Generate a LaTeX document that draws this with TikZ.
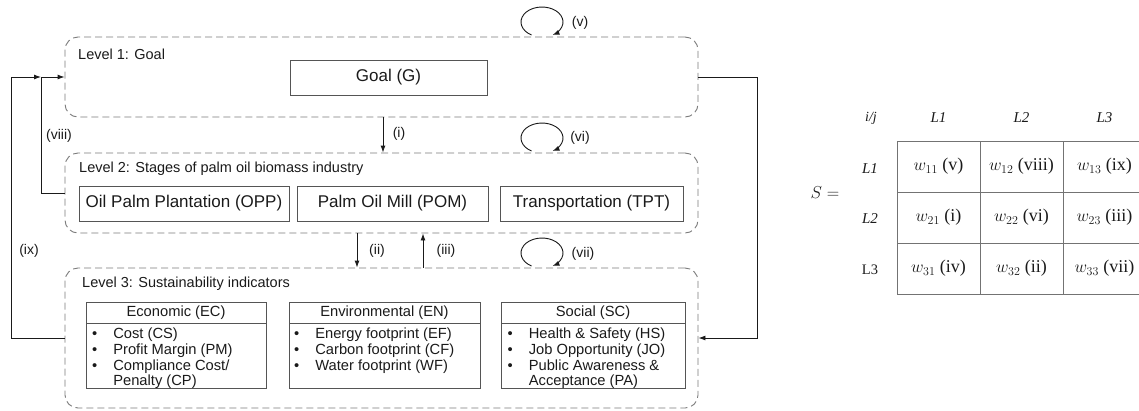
\documentclass[tikz,border=0pt]{standalone}
\usepackage{fontspec}
\setmainfont{Liberation Sans}
\newfontfamily\tabfont{Liberation Serif}
\usetikzlibrary{arrows.meta,calc}
\definecolor{boxline}{HTML}{555555}
\definecolor{dashline}{HTML}{7A7A7A}
\definecolor{ink}{HTML}{1A1A1A}
\begin{document}
\begin{tikzpicture}[x=1pt,y=-1pt,
  level/.style={draw=dashline, dash pattern=on 7pt off 4pt, rounded corners=13pt,
    line width=0.9pt, minimum width=633pt, inner sep=0pt},
  box/.style={draw=boxline, line width=0.9pt, inner sep=0pt, text=ink},
  arr/.style={draw=ink, line width=0.9pt, -{Latex[length=7pt,width=5pt]}},
  lvltext/.style={font=\fontsize{14.5}{16}\selectfont, text=ink, inner sep=0pt, anchor=west},
  lbl/.style={font=\fontsize{14}{16}\selectfont, text=ink, inner sep=0pt},
  big/.style={font=\fontsize{17}{19}\selectfont},
  head/.style={box, font=\fontsize{14.7}{16}\selectfont, minimum height=21pt},
  body/.style={box, minimum height=65pt},
  items/.style={inner sep=0pt, anchor=base west, text=ink},
  cell/.style={draw=gray!90!black, line width=0.8pt, minimum width=83pt, minimum height=51pt,
    inner sep=0pt, text=ink, font=\tabfont\fontsize{18}{20}\selectfont},
  thead/.style={inner sep=0pt, text=ink, font=\tabfont\itshape\fontsize{15}{17}\selectfont},
]
\useasboundingbox (0,0) rectangle (1139,410);

% the three levels
\node[level, minimum height=80pt]  (L1) at (381.5,77) {};
\node[level, minimum height=80pt]  (L2) at (381.5,193) {};
\node[level, minimum height=140pt] (L3) at (381.5,338) {};

\node[lvltext] (t1) at (78,54)  {Level 1: Goal};
\node[lvltext] (t2) at (79,169) {Level 2: Stages of palm oil biomass industry};
\node[lvltext] (t3) at (82,284) {Level 3: Sustainability indicators};

% level 1
\node[box, big, minimum width=197pt, minimum height=35pt] (G) at (388.5,77.5) {Goal (G)};

% level 2
\node[box, big, minimum width=210pt, minimum height=35pt] (OPP) at (184,203.5)   {Oil Palm Plantation (OPP)};
\node[box, big, minimum width=191pt, minimum height=35pt] (POM) at (392.5,203.5) {Palm Oil Mill (POM)};
\node[box, big, minimum width=183pt, minimum height=35pt] (TPT) at (591.5,203.5) {Transportation (TPT)};

% level 3
\node[head, minimum width=180pt] (EC) at (176,312.5)   {Economic (EC)};
\node[head, minimum width=191pt] (EN) at (384.5,312.5) {Environmental (EN)};
\node[head, minimum width=184pt] (SC) at (593,312.5)   {Social (SC)};
\node[body, minimum width=180pt] (ECb) at (176,355.5)   {};
\node[body, minimum width=191pt] (ENb) at (384.5,355.5) {};
\node[body, minimum width=184pt] (SCb) at (593,355.5)   {};

\node[items] (ECi) at (92,338.5) {\fontsize{14.7}{15.8}\selectfont
  \begin{tabular}[t]{@{}l@{\hspace{16pt}}l@{}}
  \textbullet & Cost (CS)\\
  \textbullet & Profit Margin (PM)\\
  \textbullet & Compliance Cost/\\
              & Penalty (CP)
  \end{tabular}};
\node[items] (ENi) at (294,338.5) {\fontsize{14.7}{15.8}\selectfont
  \begin{tabular}[t]{@{}l@{\hspace{16pt}}l@{}}
  \textbullet & Energy footprint (EF)\\
  \textbullet & Carbon footprint (CF)\\
  \textbullet & Water footprint (WF)
  \end{tabular}};
\node[items] (SCi) at (507.5,338.5) {\fontsize{14.7}{15.8}\selectfont
  \begin{tabular}[t]{@{}l@{\hspace{16pt}}l@{}}
  \textbullet & Health \& Safety (HS)\\
  \textbullet & Job Opportunity (JO)\\
  \textbullet & Public Awareness \&\\
              & Acceptance (PA)
  \end{tabular}};

% links between levels
\draw[arr] ([xshift=1.5pt]L1.south)  -- ([xshift=1.5pt]L2.north);
\draw[arr] ([xshift=-24.5pt]L2.south) -- ([xshift=-24.5pt]L3.north);
\draw[arr] ([xshift=41.5pt]L3.north)  -- ([xshift=41.5pt]L2.south);

\coordinate (c8) at (41,77);
\draw[arr] (L2.west) -| (c8) -- (L1.west);
\draw[arr] (L3.west) -- ++(-53,0) |- (c8);
\draw[arr] (L1.east) -- ++(59,0) |- (L3.east);

% self loops
\foreach \lv/\yy in {L1/35, L2/151, L3/266}{
  \draw[arr] (531.5,\yy) arc[start angle=240, end angle=-60, x radius=21pt, y radius=15pt];
}

% link labels
\node[lbl] (li)    at (399,134)   {(i)};
\node[lbl] (lii)   at (377,251)   {(ii)};
\node[lbl] (liii)  at (446,251)   {(iii)};
\node[lbl] (lv)    at (580,23)    {(v)};
\node[lbl] (lvi)   at (580,138)   {(vi)};
\node[lbl] (lvii)  at (583,254)   {(vii)};
\node[lbl] (lviii) at (59,136)    {(viii)};
\node[lbl] (lix)   at (29,251)    {(ix)};

% supermatrix
\node[inner sep=0pt, text=ink, font=\fontsize{17}{19}\selectfont] (S) at (825,193) {$S =$};
\node[thead, font=\tabfont\itshape\fontsize{14}{16}\selectfont] (ij) at (871,118) {i/j};
\node[thead] (h1) at (938.5,118)  {L1};
\node[thead] (h2) at (1021.5,118) {L2};
\node[thead] (h3) at (1104.5,118) {L3};
\node[thead] (r1) at (870,169) {L1};
\node[thead] (r2) at (870,219) {L2};
\node[thead, font=\tabfont\fontsize{14.5}{17}\selectfont] (r3) at (870,270) {L3};

\node[cell] (c11) at (938.5,166.5)  {$w_{11}$ (v)};
\node[cell] (c12) at (1021.5,166.5) {$w_{12}$ (viii)};
\node[cell] (c13) at (1104.5,166.5) {$w_{13}$ (ix)};
\node[cell] (c21) at (938.5,217.5)  {$w_{21}$ (i)};
\node[cell] (c22) at (1021.5,217.5) {$w_{22}$ (vi)};
\node[cell] (c23) at (1104.5,217.5) {$w_{23}$ (iii)};
\node[cell] (c31) at (938.5,268.5)  {$w_{31}$ (iv)};
\node[cell] (c32) at (1021.5,268.5) {$w_{32}$ (ii)};
\node[cell] (c33) at (1104.5,268.5) {$w_{33}$ (vii)};
\end{tikzpicture}
\end{document}
